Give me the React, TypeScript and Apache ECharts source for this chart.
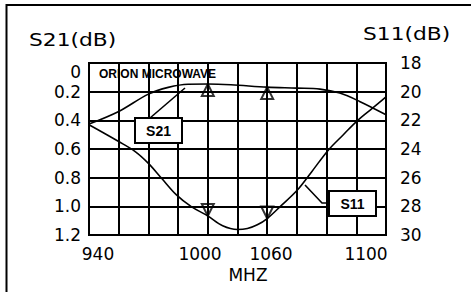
import React, { useEffect, useRef } from "react";
import * as echarts from "echarts";

// ---- data ----
const freqS21 = [940, 958, 976, 988, 1000, 1012, 1026, 1048, 1066, 1080, 1092, 1104, 1120];
const lossS21 = [0.426, 0.338, 0.217, 0.17, 0.148, 0.147, 0.152, 0.168, 0.175, 0.182, 0.21, 0.268, 0.361];

const freqS11 = [940, 958, 968, 976, 984, 993, 1002, 1012, 1021, 1030, 1036, 1042, 1048, 1056, 1066, 1075, 1085, 1094, 1103, 1112, 1120];
const lossS11 = [22.31, 23.48, 24.18, 25.0, 26.04, 27.2, 28.02, 28.67, 29.36, 29.62, 29.55, 29.29, 28.85, 28.0, 26.9, 25.58, 24.08, 23.02, 21.98, 21.13, 20.36];

const markerFreqs = [1012, 1048];
const markerS21 = [0.147, 0.168];
const markerS11 = [28.67, 28.85];

const xTickLabels = ["940", "1000", "1060", "1100"];
const leftTitle = "S21(dB)";
const rightTitle = "S11(dB)";
const xTitle = "MHZ";
const brand = "ORION MICROWAVE";
const calloutLabels = ["S21", "S11"];

// ---- layout (pixel positions of free texts) ----
const xTickPos = [98, 200, 271, 366];

const FONT = '"DejaVu Sans", sans-serif';
const BOLD = '"Liberation Sans", Arial, sans-serif';

export default function App() {
  const ref = useRef<HTMLDivElement>(null);
  useEffect(() => {
    if (!ref.current) return;
    const chart = echarts.init(ref.current, undefined, { renderer: "svg" });
    const black = "#000";
    const option: any = {
      animation: false,
      backgroundColor: "#fff",
      grid: {
        left: 89,
        top: 63,
        width: 297,
        height: 172,
        show: true,
        borderColor: black,
        borderWidth: 2,
        backgroundColor: "transparent",
      },
      xAxis: {
        type: "value",
        min: 940,
        max: 1120,
        interval: 18,
        axisLine: { show: true, lineStyle: { color: black, width: 2 } },
        axisTick: { show: false },
        axisLabel: { show: false },
        splitLine: { show: true, lineStyle: { color: black, width: 2 } },
      },
      yAxis: [
        {
          type: "value",
          inverse: true,
          min: 0,
          max: 1.2,
          interval: 0.2,
          position: "left",
          axisLine: { show: true, lineStyle: { color: black, width: 2 } },
          axisTick: { show: false },
          axisLabel: {
            color: black,
            fontSize: 17,
            fontFamily: FONT,
            margin: 8,
            verticalAlignMinLabel: "top",
            formatter: (v: number) => (Math.abs(v) < 1e-9 ? "0" : v.toFixed(1)),
          },
          splitLine: { show: true, lineStyle: { color: black, width: 2 } },
        },
        {
          type: "value",
          inverse: true,
          min: 18,
          max: 30,
          interval: 2,
          position: "right",
          axisLine: { show: true, lineStyle: { color: black, width: 2 } },
          axisTick: { show: false },
          axisLabel: {
            color: black,
            fontSize: 17,
            fontFamily: FONT,
            margin: 14,
            formatter: (v: number) => String(Math.round(v)),
          },
          splitLine: { show: false },
        },
      ],
      series: [
        {
          type: "line",
          name: "S21",
          yAxisIndex: 0,
          data: freqS21.map((f, i) => [f, lossS21[i]]),
          smooth: 0.35,
          showSymbol: false,
          symbol: "none",
          lineStyle: { color: black, width: 1.6 },
          z: 3,
        },
        {
          type: "line",
          name: "S11",
          yAxisIndex: 1,
          data: freqS11.map((f, i) => [f, lossS11[i]]),
          smooth: 0.35,
          showSymbol: false,
          symbol: "none",
          lineStyle: { color: black, width: 1.6 },
          z: 3,
        },
        {
          type: "scatter",
          yAxisIndex: 0,
          data: markerFreqs.map((f, i) => [f, markerS21[i]]),
          symbol: "triangle",
          symbolSize: [12, 12],
          symbolOffset: [0, 6],
          itemStyle: { color: "rgba(0,0,0,0)", borderColor: black, borderWidth: 2 },
          z: 4,
        },
        {
          type: "scatter",
          yAxisIndex: 1,
          data: markerFreqs.map((f, i) => [f, markerS11[i]]),
          symbol: "triangle",
          symbolSize: [12, 12],
          symbolRotate: 180,
          symbolOffset: [0, -6],
          itemStyle: { color: "rgba(0,0,0,0)", borderColor: black, borderWidth: 2 },
          z: 4,
        },
      ],
      graphic: [
        {
          type: "rect",
          shape: { x: 6.5, y: 5, width: 520, height: 340 },
          style: { fill: "none", stroke: black, lineWidth: 2 },
          silent: true,
        },
        {
          type: "text",
          x: 29,
          y: 40,
          scaleX: 1.28,
          style: { text: leftTitle, font: `17px ${FONT}`, fill: black, textAlign: "left", textVerticalAlign: "middle" },
        },
        {
          type: "text",
          x: 363,
          y: 34,
          scaleX: 1.28,
          style: { text: rightTitle, font: `17px ${FONT}`, fill: black, textAlign: "left", textVerticalAlign: "middle" },
        },
        {
          type: "text",
          x: 99,
          y: 74,
          style: { text: brand, font: `bold 12px ${BOLD}`, fill: black, textAlign: "left", textVerticalAlign: "middle" },
        },
        ...xTickLabels.map((t, i) => ({
          type: "text",
          x: xTickPos[i],
          y: 254,
          style: { text: t, font: `17px ${FONT}`, fill: black, textAlign: "center", textVerticalAlign: "middle" },
        })),
        {
          type: "text",
          x: 248,
          y: 275,
          style: { text: xTitle, font: `17px ${FONT}`, fill: black, textAlign: "center", textVerticalAlign: "middle" },
        },
        // S21 callout
        {
          type: "line",
          shape: { x1: 150, y1: 118, x2: 185, y2: 88 },
          style: { stroke: black, lineWidth: 1.6 },
          z: 10,
        },
        {
          type: "rect",
          shape: { x: 135, y: 118, width: 47, height: 25 },
          style: { fill: "#fff", stroke: black, lineWidth: 2 },
          z: 11,
        },
        {
          type: "text",
          x: 158.5,
          y: 131,
          style: { text: calloutLabels[0], font: `bold 14px ${BOLD}`, fill: black, textAlign: "center", textVerticalAlign: "middle" },
          z: 12,
        },
        // S11 callout
        {
          type: "polyline",
          shape: { points: [[329, 203], [322, 203], [305, 185]] },
          style: { stroke: black, lineWidth: 1.6, fill: "none" },
          z: 10,
        },
        {
          type: "rect",
          shape: { x: 329, y: 191, width: 47, height: 25 },
          style: { fill: "#fff", stroke: black, lineWidth: 2 },
          z: 11,
        },
        {
          type: "text",
          x: 352.5,
          y: 204,
          style: { text: calloutLabels[1], font: `bold 14px ${BOLD}`, fill: black, textAlign: "center", textVerticalAlign: "middle" },
          z: 12,
        },
      ],
    };
    chart.setOption(option);
    return () => chart.dispose();
  }, []);
  return (
    <div
      ref={ref}
      style={{ position: "fixed", left: 0, top: 0, width: 471, height: 292, background: "#fff" }}
    />
  );
}
